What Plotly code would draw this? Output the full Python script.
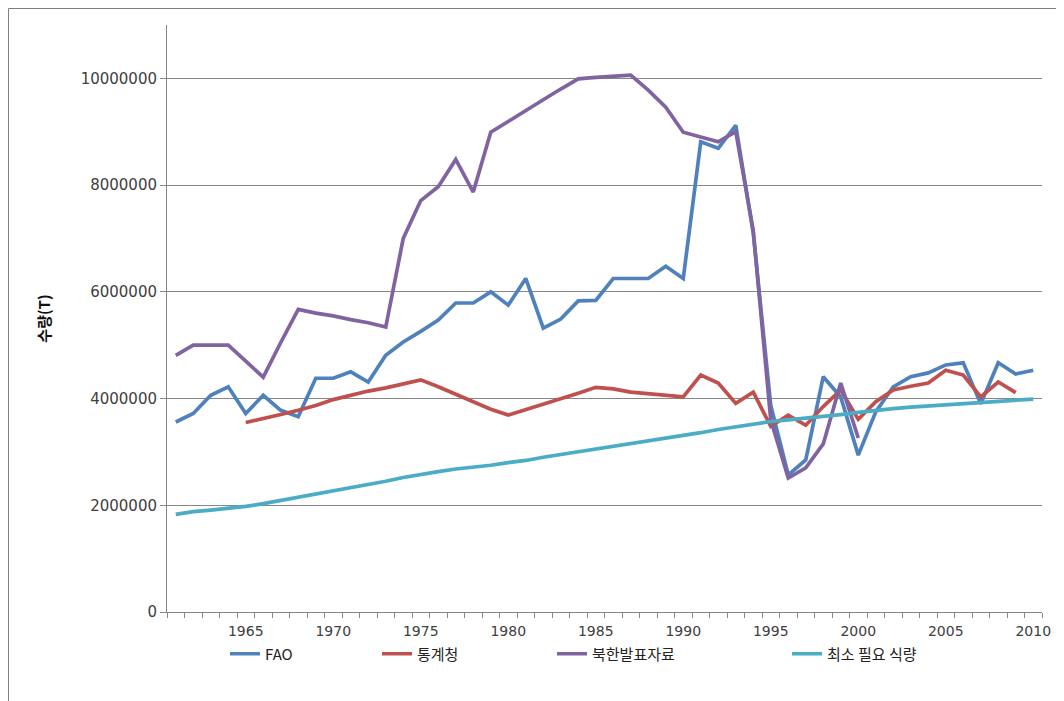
import plotly.graph_objects as go

years = list(range(1961, 2011))

fao = [3.56, 3.72, 4.06, 4.22, 3.72, 4.06, 3.78, 3.66, 4.38, 4.38,
       4.50, 4.31, 4.81, 5.06, 5.26, 5.47, 5.79, 5.79, 6.00, 5.75,
       6.25, 5.32, 5.49, 5.83, 5.84, 6.25, 6.25, 6.25, 6.48, 6.25,
       8.81, 8.69, 9.12, 7.10, 3.87, 2.57, 2.85, 4.41, 4.03, 2.94,
       3.75, 4.22, 4.41, 4.48, 4.63, 4.67, 3.90, 4.67, 4.46, 4.53]

stat_years = list(range(1965, 2010))
stat_korea = [3.55, 3.62, 3.70, 3.78, 3.87, 3.98, 4.06, 4.14, 4.20, 4.28,
              4.35, 4.22, 4.08, 3.94, 3.80, 3.69, 3.79, 3.90, 3.99, 4.10,
              4.21, 4.18, 4.12, 4.09, 4.06, 4.03, 4.44, 4.29, 3.91, 4.12,
              3.48, 3.69, 3.50, 3.85, 4.16, 3.61, 3.94, 4.16, 4.23, 4.29,
              4.53, 4.44, 4.03, 4.31, 4.11]

nk_years = list(range(1961, 2001))
north_korea = [4.81, 5.00, 5.00, 5.00, 4.70, 4.40, 5.05, 5.67, 5.60, 5.55,
               5.48, 5.42, 5.34, 7.00, 7.71, 7.97, 8.48, 7.87, 8.99, 9.20,
               9.40, 9.60, 9.80, 9.99, 10.02, 10.04, 10.06, 9.78, 9.46, 8.99,
               8.90, 8.81, 9.00, 7.15, 3.60, 2.51, 2.70, 3.15, 4.29, 3.26]

min_need = [1.83, 1.88, 1.91, 1.94, 1.98, 2.03, 2.09, 2.15, 2.21, 2.27,
            2.32, 2.39, 2.45, 2.52, 2.58, 2.63, 2.68, 2.71, 2.75, 2.80,
            2.84, 2.90, 2.95, 3.00, 3.06, 3.11, 3.15, 3.20, 3.25, 3.30,
            3.36, 3.42, 3.47, 3.52, 3.57, 3.60, 3.63, 3.66, 3.70, 3.74,
            3.78, 3.81, 3.84, 3.86, 3.89, 3.91, 3.93, 3.95, 3.97, 3.99]

y_ticks = [0, 2000000, 4000000, 6000000, 8000000, 10000000]
x_ticks = list(range(1965, 2011, 5))

series = [
    ("FAO", years, fao, "#4F81BD", "legend"),
    ("통계청", stat_years, stat_korea, "#C0504D", "legend2"),
    ("북한발표자료", nk_years, north_korea, "#8064A2", "legend3"),
    ("최소 필요 식량", years, min_need, "#4BACC6", "legend4"),
]

# the page body adds an 8px margin, so the figure starts at (8, 8)
OFF = 8
FW, FH = 1064 - OFF, 701 - OFF
# plot area in page pixels
L, R, T, B = 167, 1042, 25, 612
W, H = R - L, B - T


def px_x(p):
    return (p - L) / W


def px_y(p):
    return (B - p) / H


fig = go.Figure()
for name, xs, vals, color, lg in series:
    fig.add_trace(go.Scatter(
        x=xs, y=[v * 1e6 for v in vals],
        mode="lines", name=name, legend=lg,
        line=dict(color=color, width=3.7),
    ))

legend_font = dict(family="Noto Sans CJK KR, DejaVu Sans", size=15, color="#222")
leg_x = {"legend": 228, "legend2": 380, "legend3": 555, "legend4": 790}
legends = {}
for key, p in leg_x.items():
    legends[key] = dict(
        x=px_x(p - 3), y=px_y(654), xanchor="left", yanchor="middle",
        orientation="h", font=legend_font, bgcolor="rgba(0,0,0,0)",
        itemwidth=30,
    )

fig.update_layout(
    width=FW, height=FH,
    margin=dict(l=L - OFF, r=1064 - R, t=T - OFF, b=701 - B),
    paper_bgcolor="white", plot_bgcolor="white",
    font=dict(family="DejaVu Sans", size=15, color="#404040"),
    showlegend=True,
    xaxis=dict(
        range=[1960.5, 2010.5],
        tickmode="array", tickvals=x_ticks, ticktext=[str(t) for t in x_ticks],
        ticks="outside", ticklen=6, tickcolor="rgba(0,0,0,0)",
        showgrid=False, zeroline=False,
        showline=True, linecolor="#868686", linewidth=1,
        tickfont=dict(family="DejaVu Sans", size=14, color="#404040"),
        minor=dict(tickmode="linear", tick0=0.5, dtick=1, ticks="outside",
                   ticklen=5, tickcolor="#868686", showgrid=False),
    ),
    yaxis=dict(
        range=[0, 11000000],
        tickmode="array", tickvals=y_ticks, ticktext=[str(t) for t in y_ticks],
        ticks="outside", ticklen=6, tickcolor="#868686",
        showgrid=True, gridcolor="#868686", gridwidth=1, zeroline=False,
        showline=True, linecolor="#868686", linewidth=1,
        tickfont=dict(family="DejaVu Sans", size=15, color="#404040"),
        title=dict(text="<b>수량(T)</b>", standoff=26,
                   font=dict(family="Noto Sans CJK KR", size=15, color="#111")),
    ),
    shapes=[
        dict(type="line", xref="paper", yref="paper",
             x0=px_x(8.5), x1=px_x(1064), y0=px_y(8.5), y1=px_y(8.5),
             line=dict(color="#7F7F7F", width=1)),
        dict(type="line", xref="paper", yref="paper",
             x0=px_x(8.5), x1=px_x(8.5), y0=px_y(8.5), y1=px_y(701),
             line=dict(color="#7F7F7F", width=1)),
    ],
    **legends,
)

fig.write_html("out.html")
